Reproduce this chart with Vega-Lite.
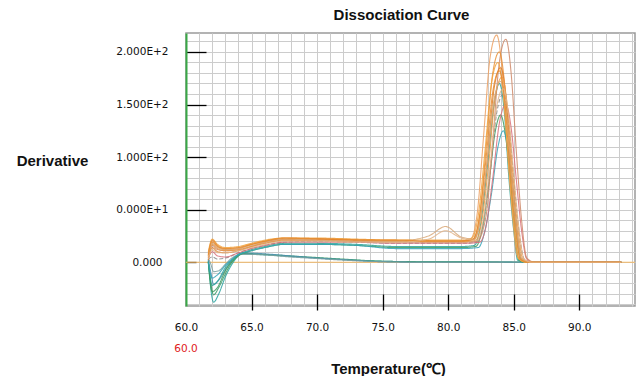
{
"$schema": "https://vega.github.io/schema/vega-lite/v6.json",
"width": 449, "height": 273,
"autosize": {"type": "none"},
"padding": {"left": 186, "top": 33, "right": 9, "bottom": 70},
"background": "white",
"title": {"text": "Dissociation Curve", "font": "Liberation Sans", "fontSize": 15, "fontWeight": "bold", "color": "#111111", "anchor": "middle", "dx": -9, "offset": 10},
"config": {"view": {"stroke": "#9a9a9a", "strokeWidth": 1.5}},
"data": {"values": [
{"s":"a1","t":61.7,"d":2},{"s":"a1","t":61.9,"d":-26},{"s":"a1","t":62.1,"d":-38},{"s":"a1","t":62.5,"d":-30},{"s":"a1","t":63.0,"d":-14},{"s":"a1","t":63.5,"d":-2},{"s":"a1","t":64.3,"d":8},{"s":"a1","t":66,"d":7},{"s":"a1","t":68,"d":5.5},{"s":"a1","t":70,"d":4},{"s":"a1","t":72,"d":2.5},{"s":"a1","t":75,"d":1},{"s":"a1","t":78,"d":0.5},{"s":"a1","t":82,"d":0.5},{"s":"a1","t":85,"d":0.3},{"s":"a1","t":88,"d":0},{"s":"a1","t":93.2,"d":0},
{"s":"a2","t":61.7,"d":1},{"s":"a2","t":61.9,"d":-20},{"s":"a2","t":62.1,"d":-31},{"s":"a2","t":62.5,"d":-24},{"s":"a2","t":63.0,"d":-11},{"s":"a2","t":63.5,"d":0},{"s":"a2","t":64.3,"d":8.5},{"s":"a2","t":66,"d":7.5},{"s":"a2","t":68,"d":6},{"s":"a2","t":70,"d":4.5},{"s":"a2","t":72,"d":3},{"s":"a2","t":75,"d":1},{"s":"a2","t":78,"d":0.5},{"s":"a2","t":82,"d":0.3},{"s":"a2","t":85,"d":0},{"s":"a2","t":88,"d":0},{"s":"a2","t":93.2,"d":0},
{"s":"a3","t":61.7,"d":3},{"s":"a3","t":61.9,"d":-10},{"s":"a3","t":62.1,"d":-21},{"s":"a3","t":62.5,"d":-17},{"s":"a3","t":63.0,"d":-7},{"s":"a3","t":63.5,"d":2},{"s":"a3","t":64.3,"d":9},{"s":"a3","t":66,"d":8},{"s":"a3","t":68,"d":6},{"s":"a3","t":70,"d":4},{"s":"a3","t":72,"d":2.5},{"s":"a3","t":75,"d":0.5},{"s":"a3","t":78,"d":0},{"s":"a3","t":82,"d":0},{"s":"a3","t":85,"d":0},{"s":"a3","t":88,"d":0},{"s":"a3","t":93.2,"d":0},
{"s":"a4","t":61.7,"d":4},{"s":"a4","t":61.9,"d":-2},{"s":"a4","t":62.1,"d":-9},{"s":"a4","t":62.5,"d":-8},{"s":"a4","t":63.0,"d":-2},{"s":"a4","t":63.5,"d":4},{"s":"a4","t":64.3,"d":7.5},{"s":"a4","t":66,"d":7},{"s":"a4","t":68,"d":5},{"s":"a4","t":70,"d":3.5},{"s":"a4","t":72,"d":2},{"s":"a4","t":75,"d":0.5},{"s":"a4","t":78,"d":0},{"s":"a4","t":82,"d":0},{"s":"a4","t":85,"d":0.2},{"s":"a4","t":88,"d":0},{"s":"a4","t":93.2,"d":0},
{"s":"b1","t":61.7,"d":0},{"s":"b1","t":62.0,"d":-22},{"s":"b1","t":62.4,"d":-18},{"s":"b1","t":63,"d":-5},{"s":"b1","t":64,"d":7},{"s":"b1","t":65,"d":12},{"s":"b1","t":66,"d":15},{"s":"b1","t":67.5,"d":18},{"s":"b1","t":70,"d":18},{"s":"b1","t":73,"d":17},{"s":"b1","t":76,"d":15},{"s":"b1","t":79,"d":15},{"s":"b1","t":80,"d":15},{"s":"b1","t":81,"d":15},{"s":"b1","t":82.0,"d":16},{"s":"b1","t":82.5,"d":38},{"s":"b1","t":83.0,"d":92},{"s":"b1","t":83.5,"d":150},{"s":"b1","t":83.9,"d":170},{"s":"b1","t":84.3,"d":140},{"s":"b1","t":84.6,"d":85},{"s":"b1","t":85.0,"d":30},{"s":"b1","t":85.3,"d":2},{"s":"b1","t":85.9,"d":0},{"s":"b1","t":89,"d":0},{"s":"b1","t":93.2,"d":0},
{"s":"b2","t":61.7,"d":0},{"s":"b2","t":62.0,"d":-28},{"s":"b2","t":62.4,"d":-24},{"s":"b2","t":63,"d":-8},{"s":"b2","t":64,"d":6},{"s":"b2","t":65,"d":11},{"s":"b2","t":66,"d":14},{"s":"b2","t":67.5,"d":17},{"s":"b2","t":70,"d":17},{"s":"b2","t":73,"d":16},{"s":"b2","t":76,"d":14},{"s":"b2","t":79,"d":14},{"s":"b2","t":80,"d":14},{"s":"b2","t":81,"d":14},{"s":"b2","t":82.1,"d":15},{"s":"b2","t":82.6,"d":32},{"s":"b2","t":83.1,"d":75},{"s":"b2","t":83.6,"d":125},{"s":"b2","t":84.0,"d":140},{"s":"b2","t":84.4,"d":118},{"s":"b2","t":84.8,"d":70},{"s":"b2","t":85.1,"d":25},{"s":"b2","t":85.4,"d":2},{"s":"b2","t":86.0,"d":0},{"s":"b2","t":89,"d":0},{"s":"b2","t":93.2,"d":0},
{"s":"b3","t":61.7,"d":0},{"s":"b3","t":62.0,"d":-15},{"s":"b3","t":62.4,"d":-12},{"s":"b3","t":63,"d":-3},{"s":"b3","t":64,"d":7},{"s":"b3","t":65,"d":11},{"s":"b3","t":66,"d":14},{"s":"b3","t":67.5,"d":17},{"s":"b3","t":70,"d":17},{"s":"b3","t":73,"d":16},{"s":"b3","t":76,"d":13},{"s":"b3","t":79,"d":13},{"s":"b3","t":80,"d":13},{"s":"b3","t":81,"d":13},{"s":"b3","t":82.3,"d":14},{"s":"b3","t":82.8,"d":30},{"s":"b3","t":83.3,"d":65},{"s":"b3","t":83.8,"d":110},{"s":"b3","t":84.2,"d":125},{"s":"b3","t":84.6,"d":105},{"s":"b3","t":85.0,"d":62},{"s":"b3","t":85.3,"d":22},{"s":"b3","t":85.6,"d":2},{"s":"b3","t":86.2,"d":0},{"s":"b3","t":89,"d":0},{"s":"b3","t":93.2,"d":0},
{"s":"b4","t":61.7,"d":3},{"s":"b4","t":62.0,"d":5},{"s":"b4","t":62.4,"d":3},{"s":"b4","t":63,"d":4},{"s":"b4","t":64,"d":9},{"s":"b4","t":65,"d":13},{"s":"b4","t":66,"d":16},{"s":"b4","t":67.5,"d":19},{"s":"b4","t":70,"d":20},{"s":"b4","t":73,"d":19},{"s":"b4","t":76,"d":18},{"s":"b4","t":79,"d":18},{"s":"b4","t":80,"d":18},{"s":"b4","t":81,"d":18},{"s":"b4","t":82.2,"d":19},{"s":"b4","t":82.7,"d":38},{"s":"b4","t":83.2,"d":85},{"s":"b4","t":83.7,"d":142},{"s":"b4","t":84.2,"d":160},{"s":"b4","t":84.6,"d":135},{"s":"b4","t":85.0,"d":80},{"s":"b4","t":85.4,"d":30},{"s":"b4","t":85.8,"d":3},{"s":"b4","t":86.4,"d":0},{"s":"b4","t":89,"d":0},{"s":"b4","t":93.2,"d":0},
{"s":"b5","t":61.7,"d":4},{"s":"b5","t":62.0,"d":10},{"s":"b5","t":62.4,"d":6},{"s":"b5","t":63,"d":5},{"s":"b5","t":64,"d":9},{"s":"b5","t":65,"d":13},{"s":"b5","t":66,"d":16},{"s":"b5","t":67.5,"d":19},{"s":"b5","t":70,"d":19},{"s":"b5","t":73,"d":19},{"s":"b5","t":76,"d":18},{"s":"b5","t":79,"d":18},{"s":"b5","t":80,"d":18},{"s":"b5","t":81,"d":18},{"s":"b5","t":82.4,"d":19},{"s":"b5","t":82.9,"d":35},{"s":"b5","t":83.4,"d":80},{"s":"b5","t":83.9,"d":132},{"s":"b5","t":84.4,"d":150},{"s":"b5","t":84.8,"d":128},{"s":"b5","t":85.2,"d":78},{"s":"b5","t":85.6,"d":30},{"s":"b5","t":86.0,"d":3},{"s":"b5","t":86.6,"d":0},{"s":"b5","t":89,"d":0},{"s":"b5","t":93.2,"d":0},
{"s":"b6","t":61.7,"d":4},{"s":"b6","t":62.0,"d":16},{"s":"b6","t":62.4,"d":12},{"s":"b6","t":63,"d":11},{"s":"b6","t":64,"d":12},{"s":"b6","t":65,"d":15},{"s":"b6","t":66,"d":18},{"s":"b6","t":67.5,"d":21},{"s":"b6","t":70,"d":21},{"s":"b6","t":73,"d":20},{"s":"b6","t":76,"d":19},{"s":"b6","t":79,"d":19},{"s":"b6","t":80,"d":19},{"s":"b6","t":81,"d":19},{"s":"b6","t":82.2,"d":20},{"s":"b6","t":82.9,"d":45},{"s":"b6","t":83.4,"d":115},{"s":"b6","t":83.9,"d":190},{"s":"b6","t":84.4,"d":212},{"s":"b6","t":84.8,"d":180},{"s":"b6","t":85.2,"d":105},{"s":"b6","t":85.6,"d":40},{"s":"b6","t":86.0,"d":4},{"s":"b6","t":86.6,"d":0},{"s":"b6","t":89,"d":0},{"s":"b6","t":93.2,"d":0},
{"s":"c1","t":61.7,"d":8},{"s":"c1","t":62.0,"d":20},{"s":"c1","t":62.4,"d":15},{"s":"c1","t":63,"d":13},{"s":"c1","t":64,"d":14},{"s":"c1","t":65,"d":17},{"s":"c1","t":66,"d":20},{"s":"c1","t":67.5,"d":23},{"s":"c1","t":70,"d":22},{"s":"c1","t":73,"d":21},{"s":"c1","t":76,"d":21},{"s":"c1","t":79,"d":20},{"s":"c1","t":80,"d":20},{"s":"c1","t":81,"d":20},{"s":"c1","t":81.7,"d":22},{"s":"c1","t":82.2,"d":45},{"s":"c1","t":82.7,"d":120},{"s":"c1","t":83.2,"d":195},{"s":"c1","t":83.7,"d":216},{"s":"c1","t":84.1,"d":185},{"s":"c1","t":84.5,"d":110},{"s":"c1","t":84.9,"d":45},{"s":"c1","t":85.3,"d":5},{"s":"c1","t":85.9,"d":0},{"s":"c1","t":89,"d":0},{"s":"c1","t":93.2,"d":0},
{"s":"c2","t":61.7,"d":6},{"s":"c2","t":62.0,"d":19},{"s":"c2","t":62.4,"d":15},{"s":"c2","t":63,"d":12},{"s":"c2","t":64,"d":13},{"s":"c2","t":65,"d":17},{"s":"c2","t":66,"d":20},{"s":"c2","t":67.5,"d":22},{"s":"c2","t":70,"d":22},{"s":"c2","t":73,"d":21},{"s":"c2","t":76,"d":20.5},{"s":"c2","t":79,"d":20},{"s":"c2","t":80,"d":20},{"s":"c2","t":81,"d":20},{"s":"c2","t":81.9,"d":22},{"s":"c2","t":82.4,"d":45},{"s":"c2","t":82.9,"d":110},{"s":"c2","t":83.4,"d":180},{"s":"c2","t":83.9,"d":200},{"s":"c2","t":84.3,"d":170},{"s":"c2","t":84.7,"d":100},{"s":"c2","t":85.1,"d":40},{"s":"c2","t":85.5,"d":3},{"s":"c2","t":86.1,"d":0},{"s":"c2","t":89,"d":0},{"s":"c2","t":93.2,"d":0},
{"s":"c3","t":61.7,"d":10},{"s":"c3","t":62.0,"d":22},{"s":"c3","t":62.4,"d":17},{"s":"c3","t":63,"d":14},{"s":"c3","t":64,"d":15},{"s":"c3","t":65,"d":18},{"s":"c3","t":66,"d":21},{"s":"c3","t":67.5,"d":23},{"s":"c3","t":70,"d":23},{"s":"c3","t":73,"d":22},{"s":"c3","t":76,"d":21},{"s":"c3","t":79,"d":21},{"s":"c3","t":80,"d":21},{"s":"c3","t":81,"d":21},{"s":"c3","t":81.8,"d":23},{"s":"c3","t":82.3,"d":45},{"s":"c3","t":82.8,"d":105},{"s":"c3","t":83.3,"d":170},{"s":"c3","t":83.8,"d":190},{"s":"c3","t":84.2,"d":160},{"s":"c3","t":84.6,"d":95},{"s":"c3","t":85.0,"d":38},{"s":"c3","t":85.4,"d":3},{"s":"c3","t":86.0,"d":0},{"s":"c3","t":89,"d":0},{"s":"c3","t":93.2,"d":0},
{"s":"c4","t":61.7,"d":2},{"s":"c4","t":62.0,"d":14},{"s":"c4","t":62.4,"d":10},{"s":"c4","t":63,"d":9},{"s":"c4","t":64,"d":11},{"s":"c4","t":65,"d":15},{"s":"c4","t":66,"d":19},{"s":"c4","t":67.5,"d":22},{"s":"c4","t":70,"d":22},{"s":"c4","t":73,"d":21},{"s":"c4","t":76,"d":20},{"s":"c4","t":79,"d":20},{"s":"c4","t":80,"d":20},{"s":"c4","t":81,"d":20},{"s":"c4","t":82.0,"d":22},{"s":"c4","t":82.5,"d":45},{"s":"c4","t":83.0,"d":100},{"s":"c4","t":83.5,"d":165},{"s":"c4","t":84.0,"d":185},{"s":"c4","t":84.4,"d":158},{"s":"c4","t":84.8,"d":92},{"s":"c4","t":85.2,"d":36},{"s":"c4","t":85.6,"d":3},{"s":"c4","t":86.2,"d":0},{"s":"c4","t":89,"d":0},{"s":"c4","t":93.2,"d":0},
{"s":"c5","t":61.7,"d":5},{"s":"c5","t":62.0,"d":17},{"s":"c5","t":62.4,"d":13},{"s":"c5","t":63,"d":11},{"s":"c5","t":64,"d":12},{"s":"c5","t":65,"d":15},{"s":"c5","t":66,"d":18},{"s":"c5","t":67.5,"d":21},{"s":"c5","t":70,"d":21},{"s":"c5","t":73,"d":20},{"s":"c5","t":76,"d":20},{"s":"c5","t":79,"d":19.5},{"s":"c5","t":80,"d":19.5},{"s":"c5","t":81,"d":19.5},{"s":"c5","t":82.1,"d":21},{"s":"c5","t":82.6,"d":42},{"s":"c5","t":83.1,"d":95},{"s":"c5","t":83.6,"d":158},{"s":"c5","t":84.1,"d":176},{"s":"c5","t":84.5,"d":150},{"s":"c5","t":84.9,"d":88},{"s":"c5","t":85.3,"d":34},{"s":"c5","t":85.7,"d":3},{"s":"c5","t":86.3,"d":0},{"s":"c5","t":89,"d":0},{"s":"c5","t":93.2,"d":0},
{"s":"c6","t":61.7,"d":6},{"s":"c6","t":62.0,"d":18},{"s":"c6","t":62.4,"d":14},{"s":"c6","t":63,"d":12},{"s":"c6","t":64,"d":13},{"s":"c6","t":65,"d":16},{"s":"c6","t":66,"d":19},{"s":"c6","t":67.5,"d":22},{"s":"c6","t":70,"d":21},{"s":"c6","t":73,"d":20},{"s":"c6","t":76,"d":20},{"s":"c6","t":78.5,"d":25},{"s":"c6","t":79.8,"d":34},{"s":"c6","t":81,"d":24},{"s":"c6","t":82.0,"d":22},{"s":"c6","t":82.5,"d":44},{"s":"c6","t":83.0,"d":98},{"s":"c6","t":83.5,"d":155},{"s":"c6","t":84.0,"d":172},{"s":"c6","t":84.4,"d":145},{"s":"c6","t":84.8,"d":88},{"s":"c6","t":85.2,"d":34},{"s":"c6","t":85.6,"d":3},{"s":"c6","t":86.2,"d":0},{"s":"c6","t":89,"d":0},{"s":"c6","t":93.2,"d":0},
{"s":"c7","t":61.7,"d":7},{"s":"c7","t":62.0,"d":21},{"s":"c7","t":62.4,"d":16},{"s":"c7","t":63,"d":13},{"s":"c7","t":64,"d":14},{"s":"c7","t":65,"d":17},{"s":"c7","t":66,"d":20},{"s":"c7","t":67.5,"d":23},{"s":"c7","t":70,"d":22.5},{"s":"c7","t":73,"d":21.5},{"s":"c7","t":76,"d":21},{"s":"c7","t":79,"d":20.5},{"s":"c7","t":80,"d":20.5},{"s":"c7","t":81,"d":20.5},{"s":"c7","t":81.9,"d":22},{"s":"c7","t":82.4,"d":44},{"s":"c7","t":82.9,"d":100},{"s":"c7","t":83.4,"d":162},{"s":"c7","t":83.9,"d":182},{"s":"c7","t":84.3,"d":155},{"s":"c7","t":84.7,"d":90},{"s":"c7","t":85.1,"d":35},{"s":"c7","t":85.5,"d":3},{"s":"c7","t":86.1,"d":0},{"s":"c7","t":89,"d":0},{"s":"c7","t":93.2,"d":0},
{"s":"c8","t":61.7,"d":3},{"s":"c8","t":62.0,"d":12},{"s":"c8","t":62.4,"d":9},{"s":"c8","t":63,"d":9},{"s":"c8","t":64,"d":11},{"s":"c8","t":65,"d":14},{"s":"c8","t":66,"d":17},{"s":"c8","t":67.5,"d":20},{"s":"c8","t":70,"d":20},{"s":"c8","t":73,"d":19},{"s":"c8","t":76,"d":19},{"s":"c8","t":78.5,"d":22},{"s":"c8","t":79.8,"d":30},{"s":"c8","t":81,"d":23},{"s":"c8","t":82.2,"d":21},{"s":"c8","t":82.7,"d":42},{"s":"c8","t":83.2,"d":92},{"s":"c8","t":83.7,"d":148},{"s":"c8","t":84.2,"d":165},{"s":"c8","t":84.6,"d":140},{"s":"c8","t":85.0,"d":84},{"s":"c8","t":85.4,"d":32},{"s":"c8","t":85.8,"d":3},{"s":"c8","t":86.4,"d":0},{"s":"c8","t":89,"d":0},{"s":"c8","t":93.2,"d":0}
]},
"layer": [
{"data": {"values": [{}]},
 "mark": {"type": "rule", "color": "#f2b866", "strokeWidth": 1},
 "encoding": {"y": {"datum": 0, "type": "quantitative"}}},
{"mark": {"type": "line", "interpolate": "monotone", "strokeWidth": 1.1, "opacity": 0.85},
 "encoding": {
  "x": {"field": "t", "type": "quantitative",
   "scale": {"domain": [60, 94.25], "nice": false, "zero": false},
   "axis": {"values": [60,61,62,63,64,65,66,67,68,69,70,71,72,73,74,75,76,77,78,79,80,81,82,83,84,85,86,87,88,89,90,91,92,93,94],
    "tickCount": 500,
    "domain": false, "grid": true, "gridColor": "#cccccc", "gridWidth": 1,
    "tickColor": "#000000", "tickWidth": 1.3, "tickSize": -16, "offset": 4,
    "tickOpacity": {"condition": {"test": "datum.value % 5 === 0 && datum.value > 60 && datum.value <= 90", "value": 1}, "value": 0},
    "labelExpr": "datum.value % 5 === 0 && datum.value <= 90 ? format(datum.value, '.1f') : ''",
    "labelOverlap": false, "labelFlush": false,
    "labelFont": "DejaVu Sans", "labelFontSize": 10.5, "labelColor": "#111111", "labelPadding": 28,
    "title": "Temperature(℃)", "titleFont": "Liberation Sans", "titleFontSize": 15, "titleFontWeight": "bold", "titleColor": "#111111",
    "titleX": 202, "titleY": 58, "titleAlign": "center", "titleBaseline": "middle"}},
  "y": {"field": "d", "type": "quantitative",
   "scale": {"domain": [-41.6, 218], "nice": false, "zero": false},
   "axis": {"values": [-40,-30,-20,-10,0,10,20,30,40,50,60,70,80,90,100,110,120,130,140,150,160,170,180,190,200,210],
    "tickCount": 500,
    "domainColor": "#39a846", "domainWidth": 2, "grid": true, "gridColor": "#cccccc", "gridWidth": 1,
    "tickColor": "#000000", "tickWidth": 1.3,
    "tickSize": {"condition": {"test": "datum.value === 0", "value": -10}, "value": -20},
    "tickOpacity": {"condition": {"test": "datum.value >= 0 && datum.value % 50 === 0", "value": 1}, "value": 0},
    "labelExpr": "datum.value === 0 ? '0.000' : datum.value === 50 ? '0.000E+1' : datum.value === 100 ? '1.000E+2' : datum.value === 150 ? '1.500E+2' : datum.value === 200 ? '2.000E+2' : ''",
    "labelOverlap": false, "labelFlush": false,
    "labelFont": "DejaVu Sans", "labelFontSize": 10.5, "labelColor": "#111111",
    "labelPadding": {"condition": {"test": "datum.value === 0", "value": 34}, "value": 38},
    "title": "Derivative", "titleAngle": 0, "titleX": -134, "titleY": 127, "titleAlign": "center", "titleBaseline": "middle",
    "titleFont": "Liberation Sans", "titleFontSize": 15, "titleFontWeight": "bold", "titleColor": "#111111"}},
  "color": {"field": "s", "type": "nominal", "legend": null,
   "scale": {"domain": ["a1","a2","a3","a4","b1","b2","b3","b4","b5","b6","c1","c2","c3","c4","c5","c6","c7","c8"],
    "range": ["#2aa3a0","#3a9a6a","#4a90b0","#7aa0a0","#2aa59a","#3d9a5e","#33a3b8","#8a8a8a","#d9707a","#cf8a6a","#eda060","#e8913a","#f2a23c","#e07f2a","#eb9a48","#d8a878","#e58c30","#e2b48a"]}},
  "strokeDash": {"field": "s", "type": "nominal", "legend": null,
   "scale": {"domain": ["a1","a2","a3","a4","b1","b2","b3","b4","b5","b6","c1","c2","c3","c4","c5","c6","c7","c8"],
    "range": [[1,0],[1,0],[1,0],[1,0],[1,0],[1,0],[1,0],[4,2],[1,0],[1,0],[1,0],[1,0],[1,0],[1,0],[1,0],[1,0],[1,0],[1,0]]}}
 }},
{"data": {"values": [{}]},
 "mark": {"type": "text", "color": "#e0201a", "font": "DejaVu Sans", "fontSize": 10.5, "align": "center", "baseline": "middle"},
 "encoding": {"x": {"datum": 60, "type": "quantitative"}, "y": {"datum": -82.6, "type": "quantitative"}, "text": {"value": "60.0"}}}
]
}
